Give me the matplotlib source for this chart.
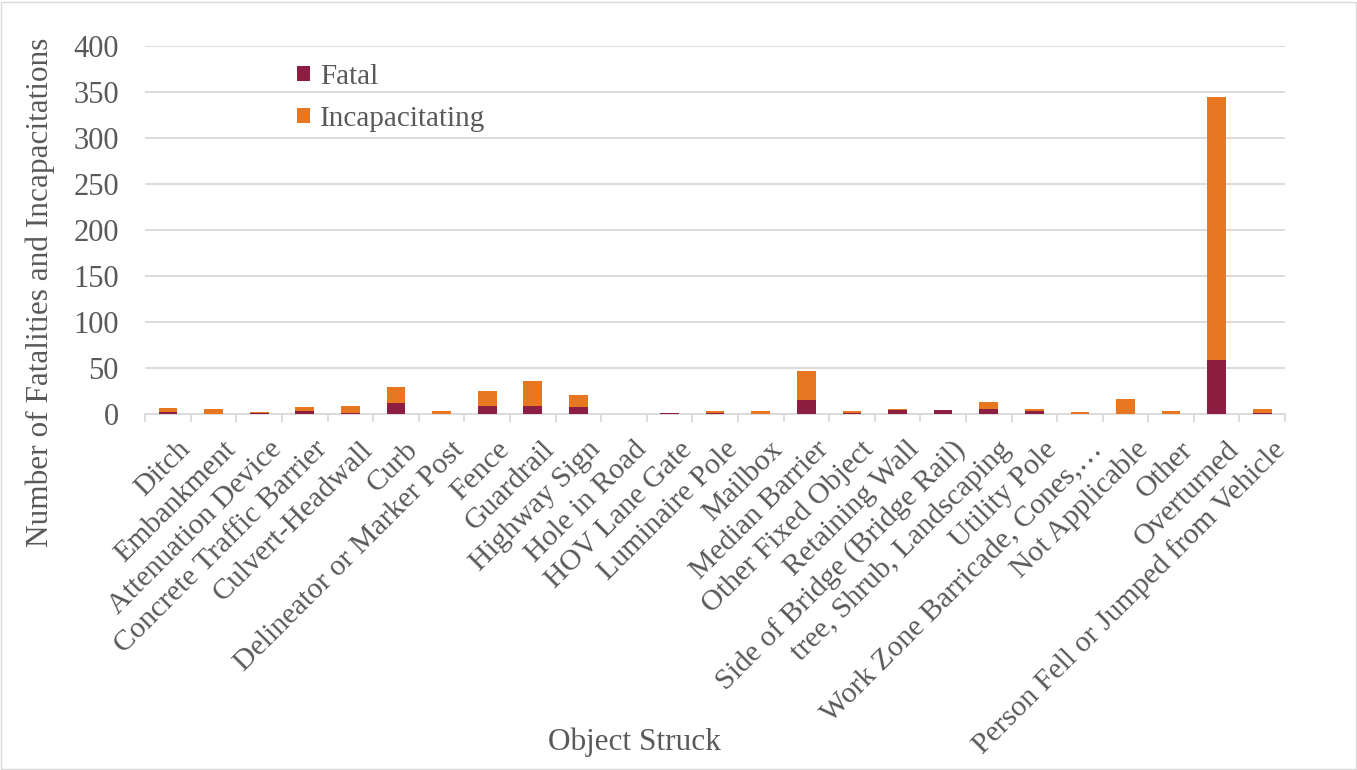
import numpy as np
import matplotlib.pyplot as plt
import matplotlib.transforms as mtransforms
from matplotlib.patches import Rectangle

plt.rcParams['font.family'] = ['Liberation Serif', 'DejaVu Serif']

categories = ["Ditch", "Embankment", "Attenuation Device", "Concrete Traffic Barrier",
              "Culvert-Headwall", "Curb", "Delineator or Marker Post", "Fence", "Guardrail",
              "Highway Sign", "Hole in Road", "HOV Lane Gate", "Luminaire Pole", "Mailbox",
              "Median Barrier", "Other Fixed Object", "Retaining Wall",
              "Side of Bridge (Bridge Rail)", "tree, Shrub, Landscaping", "Utility Pole",
              "Work Zone Barricade, Cones,\u2026", "Not Applicable", "Other", "Overturned",
              "Person Fell or Jumped from Vehicle"]
fatal = [2, 0, 1, 3, 1, 12, 0, 9, 9, 8, 0, 1, 1, 0, 15, 1, 4, 4, 5, 3, 0, 0, 0, 59, 1]
incap = [5, 6, 1, 5, 8, 17, 3, 16, 27, 13, 0.4, 0.5, 2, 3, 32, 2, 1, 0, 8, 3, 2, 16, 3, 286, 4]

c_fatal = "#8B1E41"
c_incap = "#E87722"
grey = "#595959"
gridc = "#D9D9D9"

fig = plt.figure(figsize=(13.57, 7.70), dpi=100)
ax = fig.add_axes([0.107, 0.4623, 0.840, 0.4779])

x = np.arange(len(categories))
ax.bar(x, fatal, width=0.41, color=c_fatal, label="Fatal", zorder=3)
ax.bar(x, incap, width=0.41, bottom=fatal, color=c_incap, label="Incapacitating", zorder=3)

ax.set_xlim(-0.5, len(categories) - 0.5)
ax.set_ylim(0, 400)
ax.set_yticks(range(0, 401, 50))
ax.yaxis.grid(True, color=gridc, linewidth=1.3, zorder=0)
ax.tick_params(axis='y', length=0, labelsize=22, labelcolor=grey, pad=19)

for s in ['top', 'right', 'left']:
    ax.spines[s].set_visible(False)
ax.spines['bottom'].set_color(gridc)
ax.spines['bottom'].set_linewidth(1.3)

ax.set_xticks(x)
ax.set_xticklabels(categories, rotation=45, ha='right', rotation_mode='anchor',
                   fontsize=21.5, color=grey)
ax.tick_params(axis='x', length=0, pad=6)
ax.set_xticks(np.arange(-0.5, len(categories)), minor=True)
ax.tick_params(axis='x', which='minor', length=6, color=gridc, width=1.3)

# nudge the slanted labels down and right a little
shift = mtransforms.ScaledTranslation(0.09, -0.14, fig.dpi_scale_trans)
for lab in ax.get_xticklabels():
    lab.set_transform(lab.get_transform() + shift)

ax.set_xlabel("Object Struck", fontsize=22.5, color=grey)
ax.xaxis.set_label_coords(0.429, -0.853)
ax.set_ylabel("Number of Fatalities and Incapacitations", fontsize=22.5, color=grey)
ax.yaxis.set_label_coords(-0.092, 0.33)
ax.yaxis.label.set_va('center')

leg = ax.legend(loc='upper left', bbox_to_anchor=(0.11, 1.023), frameon=False,
                fontsize=21, handlelength=0.45, handleheight=0.45, handletextpad=0.35,
                labelspacing=0.55)
for t in leg.get_texts():
    t.set_color(grey)

fig.add_artist(Rectangle((0.001, 0.001), 0.998, 0.997, transform=fig.transFigure,
                         fill=False, edgecolor=gridc, linewidth=1))

fig.savefig("out.png", dpi=100)
